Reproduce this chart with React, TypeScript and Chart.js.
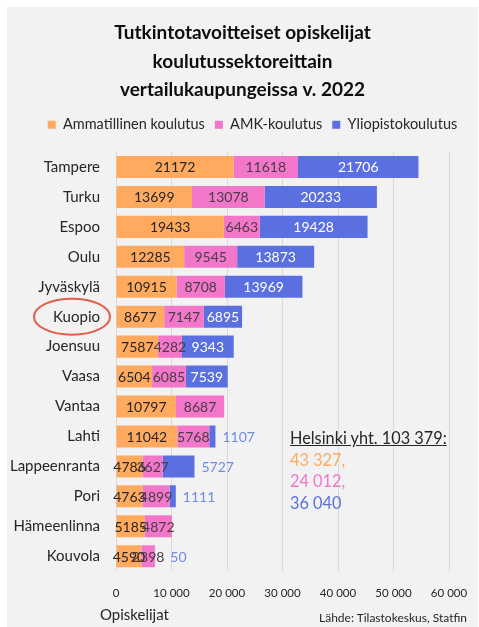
import React, { useEffect, useRef } from "react";
import { Chart, registerables } from "chart.js";

Chart.register(...registerables);

const categories = [
  "Tampere", "Turku", "Espoo", "Oulu", "Jyväskylä", "Kuopio", "Joensuu",
  "Vaasa", "Vantaa", "Lahti", "Lappeenranta", "Pori", "Hämeenlinna", "Kouvola",
];
const ammatillinen = [21172, 13699, 19433, 12285, 10915, 8677, 7587, 6504, 10797, 11042, 4786, 4763, 5185, 4590];
const amk = [11618, 13078, 6463, 9545, 8708, 7147, 4282, 6085, 8687, 5768, 3627, 4899, 4872, 2398];
const yliopisto = [21706, 20233, 19428, 13873, 13969, 6895, 9343, 7539, 0, 1107, 5727, 1111, 0, 50];
const seriesNames = ["Ammatillinen koulutus", "AMK-koulutus", "Yliopistokoulutus"];
const titleLines = [
  "Tutkintotavoitteiset opiskelijat",
  "koulutussektoreittain",
  "vertailukaupungeissa v. 2022",
];
const xMax = 60000;
const xStep = 10000;
const helsinkiTotal = "103 379";
const helsinkiValues = ["43 327", "24 012", "36 040"];
const outsideBlueLabels = ["Lahti", "Lappeenranta", "Pori", "Kouvola"];
const highlighted = "Kuopio";

const COLORS = ["#FFAA5F", "#F276C9", "#5B70E0"];
const LABEL_COLORS = ["#262626", "#4a3d46", "#ffffff"];
const OUTSIDE_COLOR = "#6F8AE8";
const FONT = "Lato, 'Open Sans', sans-serif";

const fmt = (v: number) => String(v).replace(/\B(?=(\d{3})+(?!\d))/g, " ");

const legendGapPlugin = {
  id: "legendGap",
  beforeInit(chart: any) {
    const legend = chart.legend;
    if (!legend) return;
    const orig = legend.fit;
    legend.fit = function () {
      orig.call(this);
      this.height += 10;
    };
  },
  afterLayout(chart: any) {
    const legend = chart.legend;
    if (!legend) return;
    legend.left += 10;
    legend.right += 10;
  },
};

const labelPlugin = {
  id: "segLabels",
  afterDatasetsDraw(chart: any) {
    const ctx = chart.ctx;
    ctx.save();
    ctx.font = `14px ${FONT}`;
    ctx.textBaseline = "middle";
    const lastRight: number[] = categories.map(() => 0);
    chart.data.datasets.forEach((ds: any, d: number) => {
      const meta = chart.getDatasetMeta(d);
      meta.data.forEach((el: any, i: number) => {
        const v = ds.data[i];
        if (!v) return;
        const cat = categories[i];
        const text = String(v);
        const w = ctx.measureText(text).width;
        if (d === 2 && outsideBlueLabels.includes(cat)) {
          const x = Math.max(el.x + 7, lastRight[i] + 6);
          ctx.textAlign = "left";
          ctx.fillStyle = OUTSIDE_COLOR;
          ctx.fillText(text, x, el.y + 1);
        } else {
          const cx = (el.x + el.base) / 2;
          ctx.textAlign = "center";
          ctx.fillStyle = LABEL_COLORS[d];
          ctx.fillText(text, cx, el.y + 1);
          lastRight[i] = cx + w / 2;
        }
      });
    });
    const yScale = chart.scales.y;
    const idx = categories.indexOf(highlighted);
    const cy = yScale.getPixelForValue(idx);
    ctx.beginPath();
    ctx.strokeStyle = "#E0604A";
    ctx.lineWidth = 2;
    ctx.ellipse(yScale.right - 44, cy, 38, 18, 0, 0, Math.PI * 2);
    ctx.stroke();
    ctx.restore();
  },
};

function App() {
  const ref = useRef<HTMLCanvasElement | null>(null);
  useEffect(() => {
    if (!ref.current) return;
    const chart = new Chart(ref.current, {
      type: "bar",
      data: {
        labels: categories,
        datasets: [ammatillinen, amk, yliopisto].map((data, k) => ({
          label: seriesNames[k],
          data,
          backgroundColor: COLORS[k],
          borderWidth: 0,
          categoryPercentage: 0.8,
          barPercentage: 0.92,
        })),
      },
      options: {
        indexAxis: "y",
        animation: false,
        responsive: true,
        maintainAspectRatio: false,
        layout: { padding: { left: 0, right: 0, top: 0, bottom: 12 } },
        plugins: {
          tooltip: { enabled: false },
          title: {
            display: true,
            text: titleLines,
            color: "#0d0d0d",
            font: { family: FONT, size: 19, weight: "bold", lineHeight: 1.5 },
            padding: { top: 12, bottom: 3 },
          },
          legend: {
            display: true,
            position: "top",
            labels: {
              boxWidth: 8,
              boxHeight: 8,
              padding: 10,
              color: "#262626",
              font: { family: FONT, size: 14.5 },
            },
          },
        },
        scales: {
          x: {
            stacked: true,
            min: 0,
            max: xMax,
            ticks: {
              stepSize: xStep,
              padding: 15,
              color: "#262626",
              font: { family: FONT, size: 11.5 },
              callback: (v: any) => fmt(Number(v)),
            },
            grid: { color: "#d9d9d9", drawTicks: false },
            border: { display: false },
            afterFit: (scale: any) => {
              scale.paddingLeft = 0;
              scale.paddingRight = 29;
            },
          },
          y: {
            stacked: true,
            ticks: {
              padding: 16,
              color: "#262626",
              font: { family: FONT, size: 15 },
            },
            grid: { display: false, drawTicks: false },
            border: { display: false },
            afterFit: (scale: any) => {
              scale.width = 109;
            },
          },
        },
      },
      plugins: [legendGapPlugin, labelPlugin],
    } as any);
    return () => chart.destroy();
  }, []);

  return (
    <div
      style={{
        position: "absolute",
        left: 7,
        top: 7,
        width: 471,
        height: 620,
        background: "#f2f2f2",
        fontFamily: FONT,
      }}
    >
      <canvas ref={ref} />
      <div
        style={{
          position: "absolute",
          left: 283,
          top: 420,
          fontSize: 16.3,
          lineHeight: "21.6px",
          whiteSpace: "nowrap",
        }}
      >
        <div style={{ color: "#262626", textDecoration: "underline" }}>
          Helsinki yht. {helsinkiTotal}:
        </div>
        <div style={{ color: COLORS[0] }}>{helsinkiValues[0]},</div>
        <div style={{ color: COLORS[1] }}>{helsinkiValues[1]},</div>
        <div style={{ color: COLORS[2] }}>{helsinkiValues[2]}</div>
      </div>
      <div
        style={{
          position: "absolute",
          left: 93,
          top: 598,
          fontSize: 15,
          lineHeight: "18px",
          color: "#262626",
        }}
      >
        Opiskelijat
      </div>
      <div
        style={{
          position: "absolute",
          right: 11,
          top: 604,
          fontSize: 12,
          lineHeight: "14px",
          color: "#262626",
          whiteSpace: "nowrap",
        }}
      >
        Lähde: Tilastokeskus, Statfin
      </div>
    </div>
  );
}

export default App;
